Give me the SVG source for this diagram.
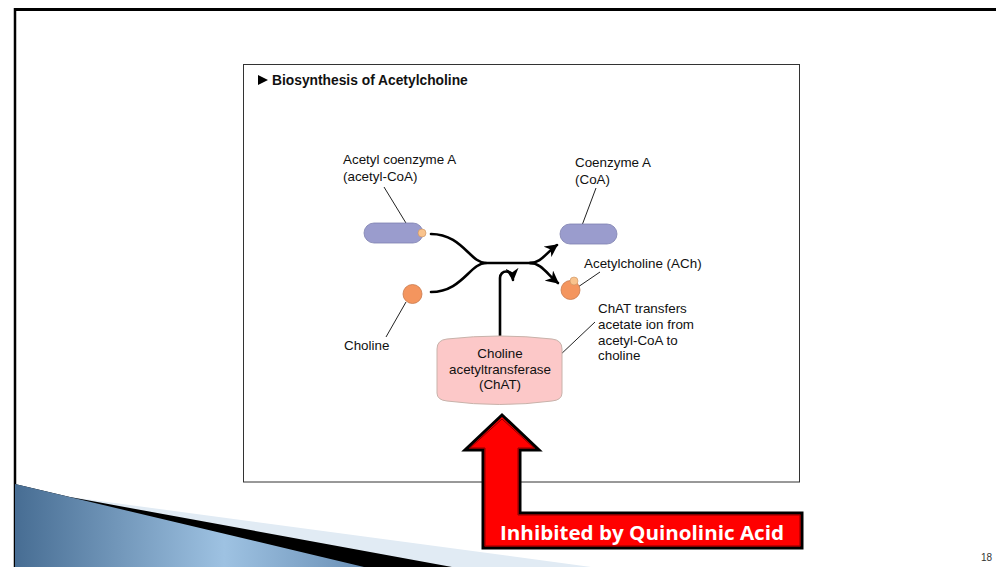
<svg xmlns="http://www.w3.org/2000/svg" width="996" height="567" viewBox="0 0 996 567">
<defs>
<linearGradient id="blue" x1="15" y1="0" x2="364" y2="0" gradientUnits="userSpaceOnUse">
<stop offset="0" stop-color="#476d93"/>
<stop offset="0.6" stop-color="#9ec2e2"/>
<stop offset="1" stop-color="#6a90b6"/>
</linearGradient>
<marker id="ah" viewBox="0 0 10 10" refX="9" refY="5" markerWidth="5" markerHeight="5" orient="auto" markerUnits="strokeWidth">
<path d="M0,0 L10,5 L0,10 L3,5 Z" fill="#000"/>
</marker>
<style>
.t{font-family:"Liberation Sans",Arial,sans-serif;font-size:13.4px;fill:#111}
.b{font-weight:bold;font-size:13.8px}
.lead{stroke:#222;stroke-width:1;fill:none}
.curve{stroke:#000;stroke-width:2.6;fill:none;stroke-linecap:round}
.pill{fill:#9a9ccd;stroke:#7f82b0;stroke-width:0.8}
.orange{fill:#f4955e;stroke:#c97a4c;stroke-width:0.8}
.dot{fill:#f9c38d;stroke:#c9905f;stroke-width:0.6}
</style>
</defs>
<rect width="996" height="567" fill="#fff"/>
<!-- slide frame -->
<g id="frame">
<line x1="14" y1="9.5" x2="996" y2="9.5" stroke="#000" stroke-width="3"/>
<line x1="15" y1="8" x2="15" y2="567" stroke="#000" stroke-width="2.5"/>
</g>
<!-- decorative wedge -->
<g id="wedge">
<polygon points="15,484 70,497 591,567 15,567" fill="#e1ebf4"/>
<polygon points="15,484 70,497 452,567 15,567" fill="#000"/>
<polygon points="15,484 364,567 15,567" fill="url(#blue)"/>
</g>
<!-- figure box -->
<g id="figure-box">
<rect x="243.5" y="64.5" width="556" height="417.5" fill="#fff" stroke="#333" stroke-width="1"/>
<path d="M258,75 L268,80 L258,85 Z" fill="#000"/>
<text class="t b" x="272" y="85">Biosynthesis of Acetylcholine</text>
</g>
<!-- connectors -->
<g id="connectors">
<path class="curve" d="M431,234 C462,234 470,263 486,263 L533,263"/>
<path class="curve" d="M431,292 C462,292 470,263 486,263"/>
<path class="curve" d="M530,263 C541,263 546,253 557,245" marker-end="url(#ah)"/>
<path class="curve" d="M530,263 C541,263 547,274 558,283" marker-end="url(#ah)"/>
<path class="curve" d="M500,337 L500,278 C500,270 512,268 513,280" marker-end="url(#ah)"/>
<line class="lead" x1="384" y1="187" x2="409" y2="228"/>
<line class="lead" x1="596" y1="188" x2="581" y2="228"/>
<line class="lead" x1="578" y1="287" x2="600" y2="272"/>
<line class="lead" x1="406" y1="302" x2="386" y2="337"/>
<line class="lead" x1="558" y1="357" x2="595" y2="322"/>
</g>
<!-- nodes -->
<g id="acetyl-coa">
<rect class="pill" x="364" y="223" width="59" height="20" rx="10"/>
<circle class="dot" cx="422" cy="233" r="4"/>
<text class="t" x="343" y="164">Acetyl coenzyme A</text>
<text class="t" x="343" y="181">(acetyl-CoA)</text>
</g>
<g id="choline">
<circle class="orange" cx="412.5" cy="294" r="9.5"/>
<text class="t" x="344" y="350">Choline</text>
</g>
<g id="coa">
<rect class="pill" x="560" y="224" width="57" height="20" rx="10"/>
<text class="t" x="575" y="167">Coenzyme A</text>
<text class="t" x="575" y="184">(CoA)</text>
</g>
<g id="ach">
<circle class="orange" cx="570.5" cy="290" r="9.5"/>
<circle class="dot" cx="574" cy="281" r="4"/>
<text class="t" x="584" y="268">Acetylcholine (ACh)</text>
</g>
<g id="chat">
<path d="M447,339 Q500,333 552,339 Q562,340 562,349 L562,393 Q562,400 552,401 Q500,408 447,401 Q437,400 437,393 L437,349 Q437,340 447,339 Z" fill="#fcc8c8" stroke="#c8b2aa" stroke-width="1"/>
<text class="t" x="500" y="358" text-anchor="middle">Choline</text>
<text class="t" x="500" y="374" text-anchor="middle">acetyltransferase</text>
<text class="t" x="500" y="389" text-anchor="middle">(ChAT)</text>
</g>
<g id="chat-note">
<text class="t" x="598" y="313">ChAT transfers</text>
<text class="t" x="598" y="329">acetate ion from</text>
<text class="t" x="598" y="345">acetyl-CoA to</text>
<text class="t" x="598" y="360">choline</text>
</g>
<!-- red inhibition arrow -->
<g id="inhibition">
<polygon points="502,415 539,450 520,450 520,513 802,513 802,548 483,548 483,450 465,450" fill="#ff0000" stroke="#000" stroke-width="3" stroke-linejoin="miter"/>
<polygon points="502,419 534,448 518,448 518,515 800,515 800,546 485,546 485,448 470,448" fill="none" stroke="#8b0000" stroke-width="1"/>
<text x="642" y="540" text-anchor="middle" font-family="'Open Sans','Liberation Sans',sans-serif" font-weight="bold" font-size="19" fill="#fff" textLength="284" lengthAdjust="spacingAndGlyphs">Inhibited by Quinolinic Acid</text>
</g>
<text x="981" y="561" font-family="'Liberation Sans',Arial,sans-serif" font-size="10" fill="#333">18</text>
</svg>
